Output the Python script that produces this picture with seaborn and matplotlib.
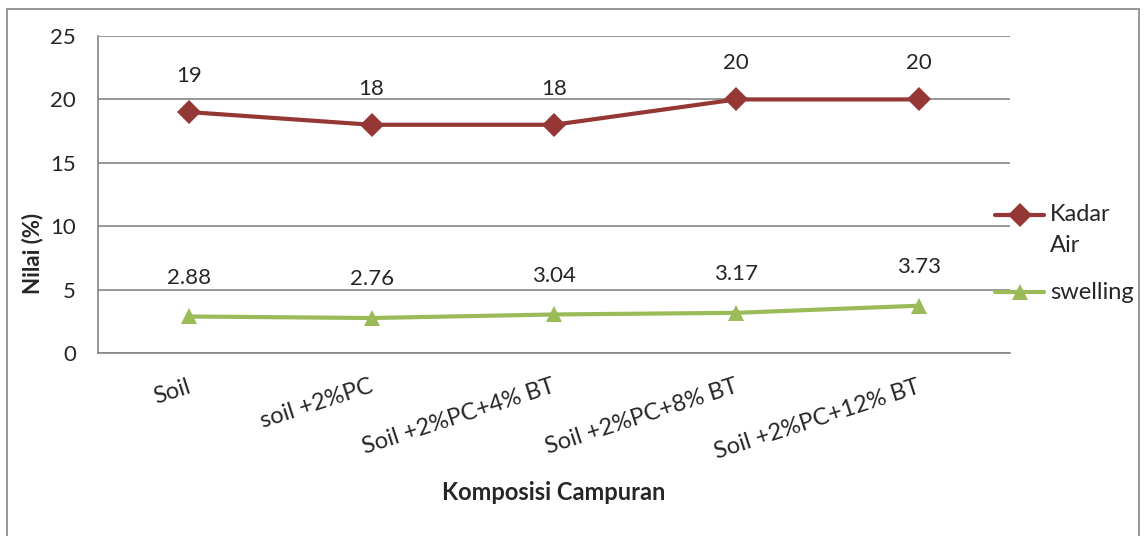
import pandas as pd
import seaborn as sns
import matplotlib.pyplot as plt
from matplotlib.patches import Rectangle
from matplotlib.lines import Line2D

categories = ['Soil', 'soil +2%PC', 'Soil +2%PC+4% BT', 'Soil +2%PC+8% BT', 'Soil +2%PC+12% BT']
kadar_air = [19, 18, 18, 20, 20]
swelling = [2.88, 2.76, 3.04, 3.17, 3.73]
kadar_labels = ['19', '18', '18', '20', '20']
swelling_labels = ['2.88', '2.76', '3.04', '3.17', '3.73']

df = pd.DataFrame({
    'pos': list(range(len(categories))) * 2,
    'value': kadar_air + swelling,
    'series': ['Kadar Air'] * 5 + ['swelling'] * 5,
})

sns.set_style('white')
plt.rcParams['font.family'] = ['Lato', 'DejaVu Sans']

fig = plt.figure(figsize=(11.44, 5.36), dpi=100)
ax = fig.add_axes([0.0857, 0.3414, 0.797, 0.5914])

red, green = '#953735', '#9BBB59'
palette = {'Kadar Air': red, 'swelling': green}
sns.lineplot(data=df, x='pos', y='value', hue='series', style='series',
             markers={'Kadar Air': 'D', 'swelling': '^'}, dashes=False,
             palette=palette, linewidth=3, markersize=12, markeredgewidth=0,
             ax=ax, legend=False)

# data labels
for i in range(len(categories)):
    ax.annotate(kadar_labels[i], (i, kadar_air[i]), xytext=(0, 26), textcoords='offset points',
                ha='center', va='center', fontsize=16)
    ax.annotate(swelling_labels[i], (i, swelling[i]), xytext=(0, 28), textcoords='offset points',
                ha='center', va='center', fontsize=16)

ax.set_xlim(-0.5, 4.5)
ax.set_ylim(0, 25)
ax.set_yticks([0, 5, 10, 15, 20, 25])
ax.yaxis.grid(True, color='#868686', linewidth=1.2)
ax.set_axisbelow(True)
for s in ['top', 'right']:
    ax.spines[s].set_visible(False)
for s in ['left', 'bottom']:
    ax.spines[s].set_color('#868686')
    ax.spines[s].set_linewidth(1.2)

ax.set_xticks([-0.5, 0.5, 1.5, 2.5, 3.5, 4.5])
ax.set_xticklabels([])
ax.tick_params(axis='both', direction='out', length=6, color='#868686', width=1.2)
ax.tick_params(axis='y', labelsize=16, pad=10)
for i, c in enumerate(categories):
    ax.text(i + 0.005, -2.6, c, rotation=18, ha='right', va='center', rotation_mode='anchor', fontsize=17)

ax.set_xlabel('')
ax.set_ylabel('')
fig.text(0.028, 0.528, 'Nilai (%)', rotation=90, ha='center', va='center', fontsize=16, fontweight='bold')
fig.text(0.484, 0.082, 'Komposisi Campuran', ha='center', va='center', fontsize=17, fontweight='bold')

# legend
fig.add_artist(Line2D([0.870, 0.913], [0.599, 0.599], color=red, lw=3, transform=fig.transFigure))
fig.add_artist(Line2D([0.8915], [0.599], color=red, marker='D', markersize=12,
                      markeredgewidth=0, transform=fig.transFigure))
fig.add_artist(Line2D([0.870, 0.913], [0.455, 0.455], color=green, lw=3, transform=fig.transFigure))
fig.add_artist(Line2D([0.8915], [0.455], color=green, marker='^', markersize=12,
                      markeredgewidth=0, transform=fig.transFigure))
fig.text(0.918, 0.599, 'Kadar', ha='left', va='center', fontsize=17)
fig.text(0.918, 0.542, 'Air', ha='left', va='center', fontsize=17)
fig.text(0.918, 0.455, 'swelling', ha='left', va='center', fontsize=17)

fig.patches.append(Rectangle((0.006, -0.01), 0.99, 0.994, transform=fig.transFigure,
                             fill=False, edgecolor='#868686', linewidth=1.2))

fig.savefig('out.png', dpi=100)
